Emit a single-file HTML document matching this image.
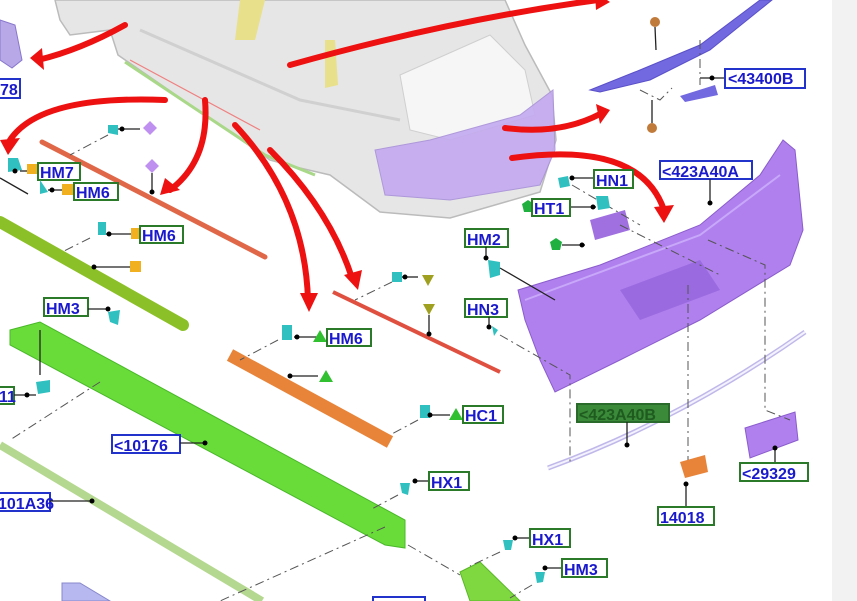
<!DOCTYPE html>
<html><head><meta charset="utf-8"><style>
html,body{margin:0;padding:0;background:#fff}
svg{display:block}
.l{font-family:"Liberation Sans",sans-serif;font-size:16px;font-weight:bold;fill:#1a1acc}
.ln{stroke:#222;stroke-width:1.3;fill:none}
.dd{stroke:#555;stroke-width:1;fill:none;stroke-dasharray:9 4 2 4}
.ar{fill:none;stroke:#ee1111;stroke-width:6;stroke-linecap:round}
.ah{fill:#ee1111}
.bg{fill:#fff;stroke:#2a7a2a;stroke-width:2}
.bb{fill:#fff;stroke:#2233cc;stroke-width:2}
</style></head><body>
<svg width="857" height="601" viewBox="0 0 857 601" xmlns="http://www.w3.org/2000/svg">
<rect x="832" y="0" width="25" height="601" fill="#f2f2f2"/>
<!-- car body -->
<path d="M55,0 L60,20 L70,35 L110,30 L118,55 L270,160 L300,168 L330,175 L380,212 L450,218 L540,192 L556,140 L552,95 L525,45 L505,0 Z" fill="#e6e6e6" stroke="#bbbbbb" stroke-width="1.5"/>
<path d="M140,30 L300,100 L400,120" fill="none" stroke="#d0d0d0" stroke-width="3"/>
<path d="M400,75 L490,35 L525,70 L535,115 L450,140 L410,130 Z" fill="#f6f6f6" stroke="#cfcfcf"/>
<path d="M375,150 L430,140 L520,115 L553,90 L555,150 L540,185 L450,200 L385,195 Z" fill="#c4aaf0" stroke="#a890d8" opacity="0.9"/>
<path d="M240,0 L265,0 L255,40 L235,40 Z" fill="#e8e08a"/>
<path d="M325,40 L335,40 L338,85 L325,88 Z" fill="#e8e08a"/>
<path d="M125,62 L265,155 L315,175" fill="none" stroke="#a8d888" stroke-width="3"/>
<path d="M130,60 L260,130" fill="none" stroke="#f08080" stroke-width="1.2"/>
<!-- left top purple part -->
<path d="M0,20 L15,25 L22,60 L12,68 L0,60 Z" fill="#b8a8e8" stroke="#8877cc"/>
<rect x="-2" y="79" width="22" height="19" class="bb"/><text x="0" y="95" class="l">78</text>
<!-- strips -->
<line x1="42" y1="142" x2="265" y2="257" stroke="#e06848" stroke-width="5" stroke-linecap="round"/>
<line x1="333" y1="292" x2="500" y2="372" stroke="#e05040" stroke-width="4"/>
<line x1="230" y1="355" x2="390" y2="442" stroke="#e8843a" stroke-width="13"/>
<line x1="0" y1="222" x2="183" y2="325" stroke="#8cc028" stroke-width="12" stroke-linecap="round"/>
<path d="M10,330 L40,322 L405,520 L405,548 L385,545 L10,345 Z" fill="#6adc3a" stroke="#48b828"/>
<line x1="0" y1="445" x2="262" y2="601" stroke="#b4d890" stroke-width="8"/>
<path d="M460,572 L480,562 L520,601 L470,601 Z" fill="#80d840" stroke="#58b828"/>
<path d="M62,583 L80,583 L110,601 L62,601 Z" fill="#b8b8f0" stroke="#8888cc"/>
<rect x="373" y="597" width="52" height="8" fill="#fff" stroke="#2233cc" stroke-width="2"/>
<!-- purple bumper -->
<path d="M518,290 L600,265 L700,225 L760,175 L783,140 L795,150 L803,230 L790,265 L700,320 L620,360 L555,392 L540,360 L525,320 Z" fill="#b080ee" stroke="#8a5ccc"/>
<path d="M525,300 L700,235 L780,175" fill="none" stroke="#c8a8f8" stroke-width="2"/>
<path d="M620,290 L700,260 L720,290 L640,320 Z" fill="#9a6ae0"/>
<path d="M548,468 Q680,420 805,332" fill="none" stroke="#c0b8ea" stroke-width="5"/>
<path d="M548,468 Q680,420 805,332" fill="none" stroke="#f4f2fc" stroke-width="2"/>
<path d="M745,428 L795,412 L798,440 L750,458 Z" fill="#b080ee" stroke="#8a5ccc"/>
<path d="M680,462 L705,455 L708,472 L685,478 Z" fill="#e8843a"/>
<path d="M590,220 L625,210 L630,230 L595,240 Z" fill="#a070e0"/>
<!-- top right long purple part -->
<path d="M590,90 L640,70 L700,45 L760,0 L772,0 L710,50 L650,80 L600,92 Z" fill="#7268e0" stroke="#5a50c8"/>
<path d="M680,96 L715,85 L718,95 L685,102 Z" fill="#7268e0"/>
<circle cx="655" cy="22" r="5" fill="#c07a3a"/><circle cx="652" cy="128" r="5" fill="#c07a3a"/>
<line x1="655" y1="27" x2="656" y2="50" class="ln"/><line x1="652" y1="123" x2="652" y2="100" class="ln"/>
<path d="M640,90 L660,100 L672,88" class="dd"/>
<line x1="700" y1="78" x2="725" y2="78" class="ln"/><circle cx="712" cy="78" r="2.5"/>
<line x1="700" y1="40" x2="700" y2="85" class="dd"/>
<rect x="725" y="69" width="80" height="19" class="bb"/><text x="728" y="84" class="l">&lt;43400B</text>
<!-- red arrows -->
<path d="M125,25 Q80,50 38,60" class="ar"/><path class="ah" d="M30,58 L42,48 L44,70 Z"/>
<path d="M165,100 Q40,95 10,140" class="ar"/><path class="ah" d="M0,140 L20,138 L8,155 Z"/>
<path d="M205,100 Q210,160 170,190" class="ar"/><path class="ah" d="M160,195 L165,178 L180,190 Z"/>
<path d="M235,125 Q305,200 308,300" class="ar"/><path class="ah" d="M300,293 L318,293 L309,312 Z"/>
<path d="M270,150 Q330,210 352,278" class="ar"/><path class="ah" d="M344,275 L362,270 L358,290 Z"/>
<path d="M290,65 Q450,20 598,0" class="ar"/><path class="ah" d="M595,-8 L610,2 L596,10 Z"/>
<path d="M505,128 Q560,135 600,114" class="ar"/><path class="ah" d="M596,104 L610,110 L600,124 Z"/>
<path d="M512,158 Q640,140 664,210" class="ar"/><path class="ah" d="M654,207 L674,205 L664,223 Z"/>
<g>
<path d="M8,158 L18,158 L22,170 L8,172 Z" fill="#30c0c0"/><line x1="20" y1="171" x2="30" y2="171" class="ln"/><circle cx="15" cy="171" r="2.5"/>
<rect x="27" y="164" width="10" height="10" fill="#f0b020"/>
<rect x="38" y="163" width="42" height="17" class="bg"/><text x="40" y="178" class="l">HM7</text>
<path d="M0,178 L28,194" class="ln" stroke="#777"/>
<path d="M40,180 L48,192 L40,194 Z" fill="#30c0c0"/><line x1="48" y1="190" x2="62" y2="190" class="ln"/><circle cx="52" cy="190" r="2.5"/>
<rect x="62" y="184" width="11" height="11" fill="#f0b020"/>
<rect x="74" y="183" width="44" height="17" class="bg"/><text x="76" y="198" class="l">HM6</text>
<path d="M150,121 L157,128 L150,135 L143,128 Z" fill="#c090f0"/>
<path d="M152,159 L159,166 L152,173 L145,166 Z" fill="#c090f0"/>
<line x1="152" y1="173" x2="152" y2="192" class="ln"/><circle cx="152" cy="192" r="2.5"/>
<path d="M108,125 L118,125 L118,135 L108,133 Z" fill="#30c0c0"/><line x1="118" y1="129" x2="140" y2="129" class="ln"/><circle cx="122" cy="129" r="2.5"/>
<path d="M108,135 L70,155" class="dd"/>
<path d="M98,222 L106,222 L106,235 L98,235 Z" fill="#30c0c0"/><line x1="106" y1="234" x2="132" y2="234" class="ln"/><circle cx="109" cy="234" r="2.5"/>
<rect x="131" y="228" width="11" height="11" fill="#f0b020"/>
<rect x="140" y="226" width="43" height="17" class="bg"/><text x="142" y="241" class="l">HM6</text>
<path d="M90,238 L62,252" class="dd"/>
<line x1="94" y1="267" x2="130" y2="267" class="ln"/><circle cx="94" cy="267" r="2.5"/>
<rect x="130" y="261" width="11" height="11" fill="#f0b020"/>
<rect x="44" y="298" width="44" height="18" class="bg"/><text x="46" y="314" class="l">HM3</text>
<line x1="88" y1="309" x2="108" y2="309" class="ln"/><circle cx="108" cy="309" r="2.5"/>
<path d="M108,312 L120,310 L118,325 L110,322 Z" fill="#30c0c0"/>
<path d="M40,330 L40,375" class="ln" stroke="#888"/>
<path d="M36,382 L50,380 L50,392 L38,394 Z" fill="#30c0c0"/>
<rect x="-4" y="387" width="18" height="17" class="bg"/><text x="-1" y="402" class="l">11</text>
<line x1="14" y1="395" x2="36" y2="395" class="ln"/><circle cx="27" cy="395" r="2.5"/>
<path d="M100,382 L10,440" class="dd"/>
<rect x="112" y="435" width="68" height="18" class="bb"/><text x="114" y="451" class="l">&lt;10176</text>
<line x1="180" y1="443" x2="205" y2="443" class="ln"/><circle cx="205" cy="443" r="2.5"/>
<rect x="-4" y="493" width="54" height="18" class="bb"/><text x="-2" y="509" class="l">101A36</text>
<line x1="50" y1="501" x2="92" y2="501" class="ln"/><circle cx="92" cy="501" r="2.5"/>
<path d="M282,325 L292,325 L292,340 L282,340 Z" fill="#30c0c0"/><line x1="294" y1="337" x2="318" y2="337" class="ln"/><circle cx="297" cy="337" r="2.5"/>
<path d="M320,330 L327,342 L313,342 Z" fill="#30c030"/>
<rect x="327" y="329" width="44" height="17" class="bg"/><text x="329" y="344" class="l">HM6</text>
<path d="M278,340 L240,360" class="dd"/>
<line x1="290" y1="376" x2="318" y2="376" class="ln"/><circle cx="290" cy="376" r="2.5"/>
<path d="M326,370 L333,382 L319,382 Z" fill="#30c030"/>
<path d="M422,275 L434,275 L428,286 Z" fill="#a0a020"/>
<path d="M423,304 L435,304 L429,315 Z" fill="#a0a020"/>
<line x1="429" y1="315" x2="429" y2="334" class="ln"/><circle cx="429" cy="334" r="2.5"/>
<path d="M392,272 L402,272 L402,282 L392,282 Z" fill="#30c0c0"/><line x1="402" y1="277" x2="418" y2="277" class="ln"/><circle cx="405" cy="277" r="2.5"/>
<path d="M392,282 L355,300" class="dd"/>
<path d="M420,405 L430,405 L430,418 L420,418 Z" fill="#30c0c0"/><line x1="430" y1="415" x2="450" y2="415" class="ln"/><circle cx="430" cy="415" r="2.5"/>
<path d="M456,408 L463,420 L449,420 Z" fill="#30c030"/>
<rect x="463" y="406" width="40" height="17" class="bg"/><text x="465" y="421" class="l">HC1</text>
<path d="M418,420 L390,435" class="dd"/>
<path d="M400,483 L410,483 L408,495 L402,493 Z" fill="#30c0c0"/><line x1="415" y1="481" x2="430" y2="481" class="ln"/><circle cx="415" cy="481" r="2.5"/>
<rect x="429" y="472" width="40" height="18" class="bg"/><text x="431" y="488" class="l">HX1</text>
<path d="M398,495 L370,510" class="dd"/>
<path d="M385,527 L220,601" class="dd"/>
<path d="M503,540 L513,540 L511,550 L505,550 Z" fill="#30c0c0"/><line x1="515" y1="538" x2="531" y2="538" class="ln"/><circle cx="515" cy="538" r="2.5"/>
<rect x="530" y="529" width="40" height="18" class="bg"/><text x="532" y="545" class="l">HX1</text>
<path d="M500,552 L470,566" class="dd"/>
<path d="M408,545 L460,575" class="dd"/>
<path d="M535,572 L545,572 L543,582 L537,583 Z" fill="#30c0c0"/><line x1="545" y1="568" x2="563" y2="568" class="ln"/><circle cx="545" cy="568" r="2.5"/>
<rect x="562" y="559" width="45" height="18" class="bg"/><text x="564" y="575" class="l">HM3</text>
<path d="M532,585 L510,598" class="dd"/>
<path d="M558,178 L568,176 L570,186 L560,188 Z" fill="#30c0c0"/><line x1="570" y1="178" x2="594" y2="178" class="ln"/><circle cx="572" cy="178" r="2.5"/>
<rect x="594" y="170" width="39" height="18" class="bg"/><text x="596" y="186" class="l">HN1</text>
<path d="M572,185 L640,225" class="dd"/>
<path d="M596,196 L608,196 L610,208 L598,210 Z" fill="#30c0c0"/>
<line x1="570" y1="207" x2="596" y2="207" class="ln"/><circle cx="593" cy="207" r="2.5"/>
<path d="M528,200 L534,204 L532,212 L524,212 L522,204 Z" fill="#20b040"/>
<rect x="532" y="199" width="38" height="17" class="bg"/><text x="534" y="214" class="l">HT1</text>
<path d="M556,238 L562,242 L560,250 L552,250 L550,242 Z" fill="#20b040"/><line x1="562" y1="245" x2="585" y2="245" class="ln"/><circle cx="582" cy="245" r="2.5"/>
<path d="M620,225 L720,275" class="dd"/>
<rect x="465" y="229" width="43" height="18" class="bg"/><text x="467" y="245" class="l">HM2</text>
<line x1="486" y1="247" x2="486" y2="258" class="ln"/><circle cx="486" cy="258" r="2.5"/>
<path d="M488,260 L500,262 L500,275 L490,278 Z" fill="#30c0c0"/>
<path d="M500,268 L555,300" class="ln" stroke="#888"/>
<rect x="465" y="299" width="42" height="18" class="bg"/><text x="467" y="315" class="l">HN3</text>
<line x1="489" y1="317" x2="489" y2="327" class="ln"/><circle cx="489" cy="327" r="2.5"/>
<path d="M492,326 L498,330 L494,336 Z" fill="#30c0c0"/>
<path d="M500,335 L570,375 L570,465" class="dd"/>
<path d="M688,285 L688,460" class="dd"/>
<path d="M708,240 L765,265 L765,410 L790,420" class="dd"/>
<rect x="660" y="161" width="92" height="18" class="bb"/><text x="662" y="177" class="l">&lt;423A40A</text>
<line x1="710" y1="179" x2="710" y2="203" class="ln"/><circle cx="710" cy="203" r="2.5"/>
<rect x="577" y="404" width="92" height="18" fill="#3a8a3a" stroke="#2a6a2a" stroke-width="2"/><text x="579" y="420" class="l" style="fill:#1f5a1f">&lt;423A40B</text>
<line x1="627" y1="422" x2="627" y2="445" class="ln"/><circle cx="627" cy="445" r="2.5"/>
<line x1="775" y1="448" x2="775" y2="463" class="ln"/><circle cx="775" cy="448" r="2.5"/>
<rect x="740" y="463" width="68" height="18" class="bg"/><text x="742" y="479" class="l">&lt;29329</text>
<line x1="686" y1="484" x2="686" y2="507" class="ln"/><circle cx="686" cy="484" r="2.5"/>
<rect x="658" y="507" width="56" height="18" class="bg"/><text x="660" y="523" class="l">14018</text>
</g>
</svg>
</body></html>
